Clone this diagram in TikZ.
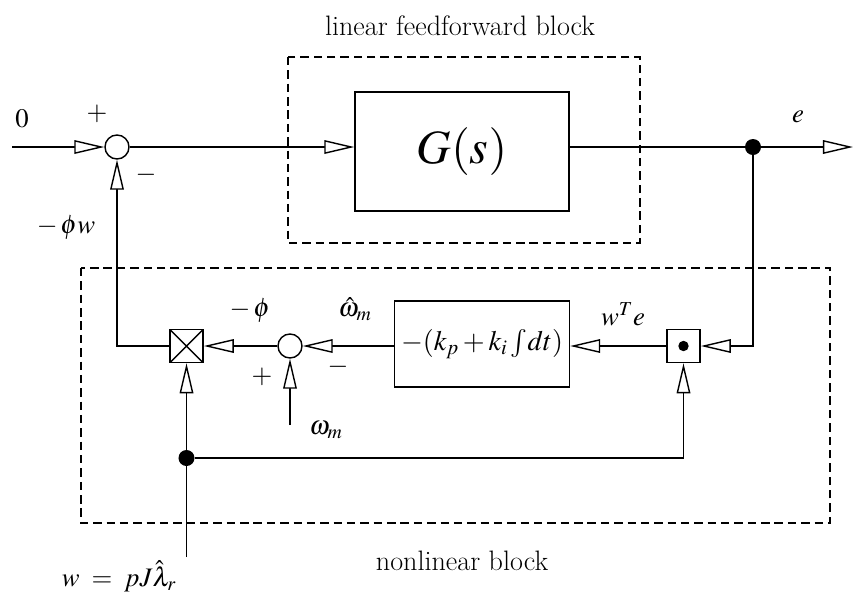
\documentclass[tikz,border=0pt]{standalone}
\usepackage{mathptmx}
\usetikzlibrary{arrows.meta}

\begin{document}
\begin{tikzpicture}[x=0.025cm,y=-0.025cm]

\tikzset{
  sum node/.style={draw, circle, minimum size=0.6cm, inner sep=0pt, line width=1pt},
  block node/.style={draw, rectangle, inner sep=0pt, line width=1pt},
  mult box/.style={draw, rectangle, minimum size=0.83cm, inner sep=0pt, line width=1pt,
    path picture={\draw[line width=1pt] (path picture bounding box.north west) -- (path picture bounding box.south east)
      (path picture bounding box.north east) -- (path picture bounding box.south west);}},
  dot box/.style={draw, rectangle, minimum size=0.83cm, inner sep=0pt, line width=1pt,
    path picture={\fill (path picture bounding box.center) circle (0.13cm);}},
  junction/.style={circle, fill, inner sep=0pt, minimum size=0.4cm},
  signal/.style={line width=1pt, -{Triangle[open, length=0.75cm, width=0.34cm, fill=white]}},
  region/.style={draw, line width=0.8pt, dash pattern=on 6pt off 3.5pt},
  lbl/.style={inner sep=1pt, font=\fontsize{19}{22}\selectfont},
  title/.style={inner sep=1pt, font=\fontsize{20}{23}\selectfont},
}

\useasboundingbox (0,0) rectangle (858,595);

% Dashed regions
\draw[region] (288,57) rectangle (640,243);
\draw[region] (81,268) rectangle (830,523);
\node[title] (lintitle) at (460,26) {linear feedforward block};
\node[title] (nltitle) at (462,561) {nonlinear block};

% Forward path
\coordinate (in0) at (12,147);
\node[sum node] (sum1) at (117,147) {};
\node[block node, minimum width=5.35cm, minimum height=2.98cm] (G) at (462,151.5)
  {\fontsize{34}{38}\selectfont $G(s)$};
\node[junction] (branch1) at (753,147) {};
\coordinate (eout) at (853,147);

% Feedback path
\node[dot box] (dotp) at (683.5,346) {};
\node[block node, minimum width=4.375cm, minimum height=2.15cm] (pi) at (482,344)
  {\fontsize{20}{24}\selectfont $-(k_p + k_i \int\! dt)$};
\node[sum node] (sum2) at (290,346) {};
\node[mult box] (mult) at (186.5,346) {};
\coordinate (wmin) at (290,425);
\node[junction] (branch2) at (186.5,458) {};
\coordinate (win) at (186.5,557);

% Connectors
\draw[signal] (in0) -- (sum1);
\draw[signal] (sum1) -- (G.west |- sum1);
\draw[line width=1pt] (G.east |- sum1) -- (branch1);
\draw[signal] (branch1) -- (eout);
\draw[signal] (branch1) |- (dotp);
\draw[signal] (dotp) -- (pi.east |- dotp);
\draw[signal] (pi.west |- sum2) -- (sum2);
\draw[signal] (sum2) -- (mult);
\draw[signal] (mult) -| (sum1);
\draw[signal] (wmin) -- (sum2);
\draw[signal] (win) -- (mult);
\draw[signal] (branch2) -| (dotp);

% Labels
\node[lbl] (zero) at (22,119) {$0$};
\node[lbl] (plus1) at (97,114) {$+$};
\node[lbl] (minus1) at (146,175) {$-$};
\node[lbl] (eout lbl) at (798,117) {$e$};
\node[lbl] (phiw) at (66,228) {$-\,\phi w$};
\node[lbl] (phi) at (250,311) {$-\,\phi$};
\node[lbl] (omhat) at (355,309) {$\hat{\omega}_m$};
\node[lbl] (minus2) at (338,367) {$-$};
\node[lbl] (plus2) at (262,377) {$+$};
\node[lbl] (om) at (326,430) {$\omega_m$};
\node[lbl] (wte) at (623,314) {$w^T e$};
\node[lbl] (wdef) at (119,576) {$w\;=\;pJ\hat{\lambda}_r$};

\end{tikzpicture}
\end{document}
